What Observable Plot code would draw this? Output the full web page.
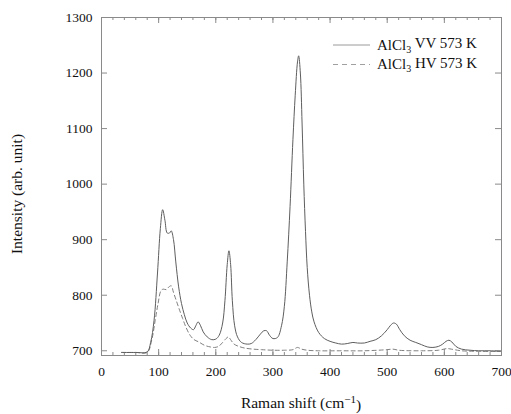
<!DOCTYPE html>
<html>
<head>
<meta charset="utf-8">
<script src="https://cdn.jsdelivr.net/npm/d3@7"></script>
<script src="https://cdn.jsdelivr.net/npm/@observablehq/plot@0.6"></script>
<style>
  body { margin: 0; background: #fff; }
  #chart svg { display: block; }
</style>
</head>
<body>
<div id="chart"></div>
<script>
// Raman spectra of molten AlCl3 at 573 K, polarized (VV) and depolarized (HV)
const vvShift = [35, 60, 80, 86, 92, 98, 103, 107, 111, 115, 119, 122, 126, 130, 135, 140, 145, 150, 156, 161, 165, 169, 173, 178, 185, 193, 200, 206, 212, 216, 220, 223, 226, 229, 233, 238, 245, 255, 262, 270, 278, 284, 289, 294, 300, 308, 315, 320, 325, 330, 335, 339, 343, 345, 348, 351, 354, 357, 360, 364, 368, 372, 380, 390, 400, 410, 420, 430, 440, 448, 460, 470, 480, 490, 500, 506, 511, 516, 522, 530, 540, 550, 560, 570, 580, 590, 597, 603, 608, 613, 620, 630, 645, 660, 680, 698];
const vvIntensity = [697, 697, 698, 715, 755, 840, 920, 954, 935, 912, 912, 916, 900, 860, 815, 785, 765, 750, 741, 738, 745, 752, 746, 734, 725, 720, 721, 728, 750, 790, 855, 880, 855, 790, 745, 725, 715, 712, 713, 720, 730, 736, 736, 728, 722, 724, 745, 780, 860, 960, 1080, 1160, 1220, 1231, 1200, 1110, 1000, 915, 850, 800, 770, 752, 733, 722, 717, 714, 712, 713, 715, 714, 714, 717, 720, 727, 738, 746, 750, 748, 738, 727, 719, 715, 711, 707, 706, 708, 712, 717, 719, 716, 708, 703, 701, 700, 700, 699];

const hvShift = [35, 60, 80, 88, 94, 99, 104, 108, 113, 118, 122, 126, 131, 136, 142, 148, 155, 162, 170, 180, 190, 198, 205, 212, 218, 222, 226, 232, 240, 250, 265, 280, 300, 320, 335, 343, 350, 360, 380, 420, 460, 500, 510, 520, 560, 590, 605, 612, 630, 660, 698];
const hvIntensity = [697, 697, 697, 720, 755, 785, 808, 811, 810, 815, 817, 805, 790, 775, 758, 742, 728, 720, 716, 710, 707, 706, 708, 715, 722, 725, 720, 712, 708, 705, 703, 702, 701, 701, 702, 706, 703, 701, 700, 700, 700, 702, 703, 701, 700, 701, 704, 703, 700, 699, 699];

const xTicks = [0, 100, 200, 300, 400, 500, 600, 700];
const xMinorTicks = d3.range(0, 701, 20);
const yTicks = [700, 800, 900, 1000, 1100, 1200, 1300];

const seriesLabels = ["VV 573 K", "HV 573 K"];
const xTitle = "Raman shift (cm";
const yTitle = "Intensity (arb. unit)";

const W = 511, H = 414;
const mL = 101, mR = 10, mT = 17, mB = 59;
const frameW = W - mL - mR, frameH = H - mT - mB;
const frameColor = "#8a8a8a";
const vvColor = "#5e5e5e", hvColor = "#808080";
const font = "'Liberation Serif', 'Times New Roman', serif";

const vv = vvShift.map((x, i) => ({x, y: vvIntensity[i]}));
const hv = hvShift.map((x, i) => ({x, y: hvIntensity[i]}));

const chart = Plot.plot({
  width: W,
  height: H,
  marginLeft: mL,
  marginRight: mR,
  marginTop: mT,
  marginBottom: mB,
  style: {fontFamily: font, fontSize: "13.5px", color: "#111", background: "#fff", overflow: "visible"},
  x: {domain: [0, 700]},
  y: {domain: [691.5, 1300]},
  marks: [
    // inward ticks: bottom and top, majors and minors
    Plot.tickX(xMinorTicks, {x: d => d, insetTop: frameH - 3, stroke: frameColor}),
    Plot.tickX(xTicks, {x: d => d, insetTop: frameH - 6, stroke: frameColor}),
    Plot.tickX(xMinorTicks, {x: d => d, insetBottom: frameH - 3, stroke: frameColor}),
    Plot.tickX(xTicks, {x: d => d, insetBottom: frameH - 6, stroke: frameColor}),
    // inward ticks: left and right
    Plot.tickY(yTicks, {y: d => d, insetRight: frameW - 6, stroke: frameColor}),
    Plot.tickY(yTicks, {y: d => d, insetLeft: frameW - 6, stroke: frameColor}),
    Plot.frame({stroke: frameColor}),
    Plot.axisX(xTicks, {tickSize: 0, tickPadding: 11, tickFormat: d => String(d), label: null}),
    Plot.axisY(yTicks, {tickSize: 0, tickPadding: 9, tickFormat: d => String(d), label: null}),
    Plot.line(hv, {x: "x", y: "y", curve: "catmull-rom", stroke: hvColor, strokeWidth: 1, strokeDasharray: "4,3"}),
    Plot.line(vv, {x: "x", y: "y", curve: "catmull-rom", stroke: vvColor, strokeWidth: 1})
  ]
});

const svg = d3.select(chart);

// axis titles
const xt = svg.append("text")
  .attr("x", mL + frameW / 2).attr("y", 408)
  .attr("text-anchor", "middle")
  .style("font-family", font).style("font-size", "15.5px").attr("fill", "#111");
xt.append("tspan").text(xTitle);
xt.append("tspan").attr("dy", "-0.45em").style("font-size", "11px").text("\u22121");
xt.append("tspan").attr("dy", "0.45em").text(")");

svg.append("text")
  .attr("transform", `translate(22,${mT + frameH / 2 + 8}) rotate(-90)`)
  .attr("text-anchor", "middle")
  .style("font-family", font).style("font-size", "15.5px").attr("fill", "#111")
  .text(yTitle);

// legend
const legend = svg.append("g");
const rows = [
  {label: seriesLabels[0], y: 45, dash: null, stroke: "#9a9a9a"},
  {label: seriesLabels[1], y: 64.5, dash: "5,4", stroke: "#a0a0a0"}
];
rows.forEach(r => {
  legend.append("line")
    .attr("x1", 333).attr("x2", 370).attr("y1", r.y).attr("y2", r.y)
    .attr("stroke", r.stroke).attr("stroke-width", 1)
    .attr("stroke-dasharray", r.dash);
  const t = legend.append("text")
    .attr("x", 377).attr("y", r.y + 4.5)
    .attr("text-anchor", "start")
    .style("font-family", font).style("font-size", "15px").attr("fill", "#111");
  t.append("tspan").text("AlCl");
  t.append("tspan").attr("dy", "0.3em").style("font-size", "10px").text("3");
  t.append("tspan").attr("dy", "-0.3em").text(" " + r.label);
});

document.getElementById("chart").append(chart);
</script>
</body>
</html>
